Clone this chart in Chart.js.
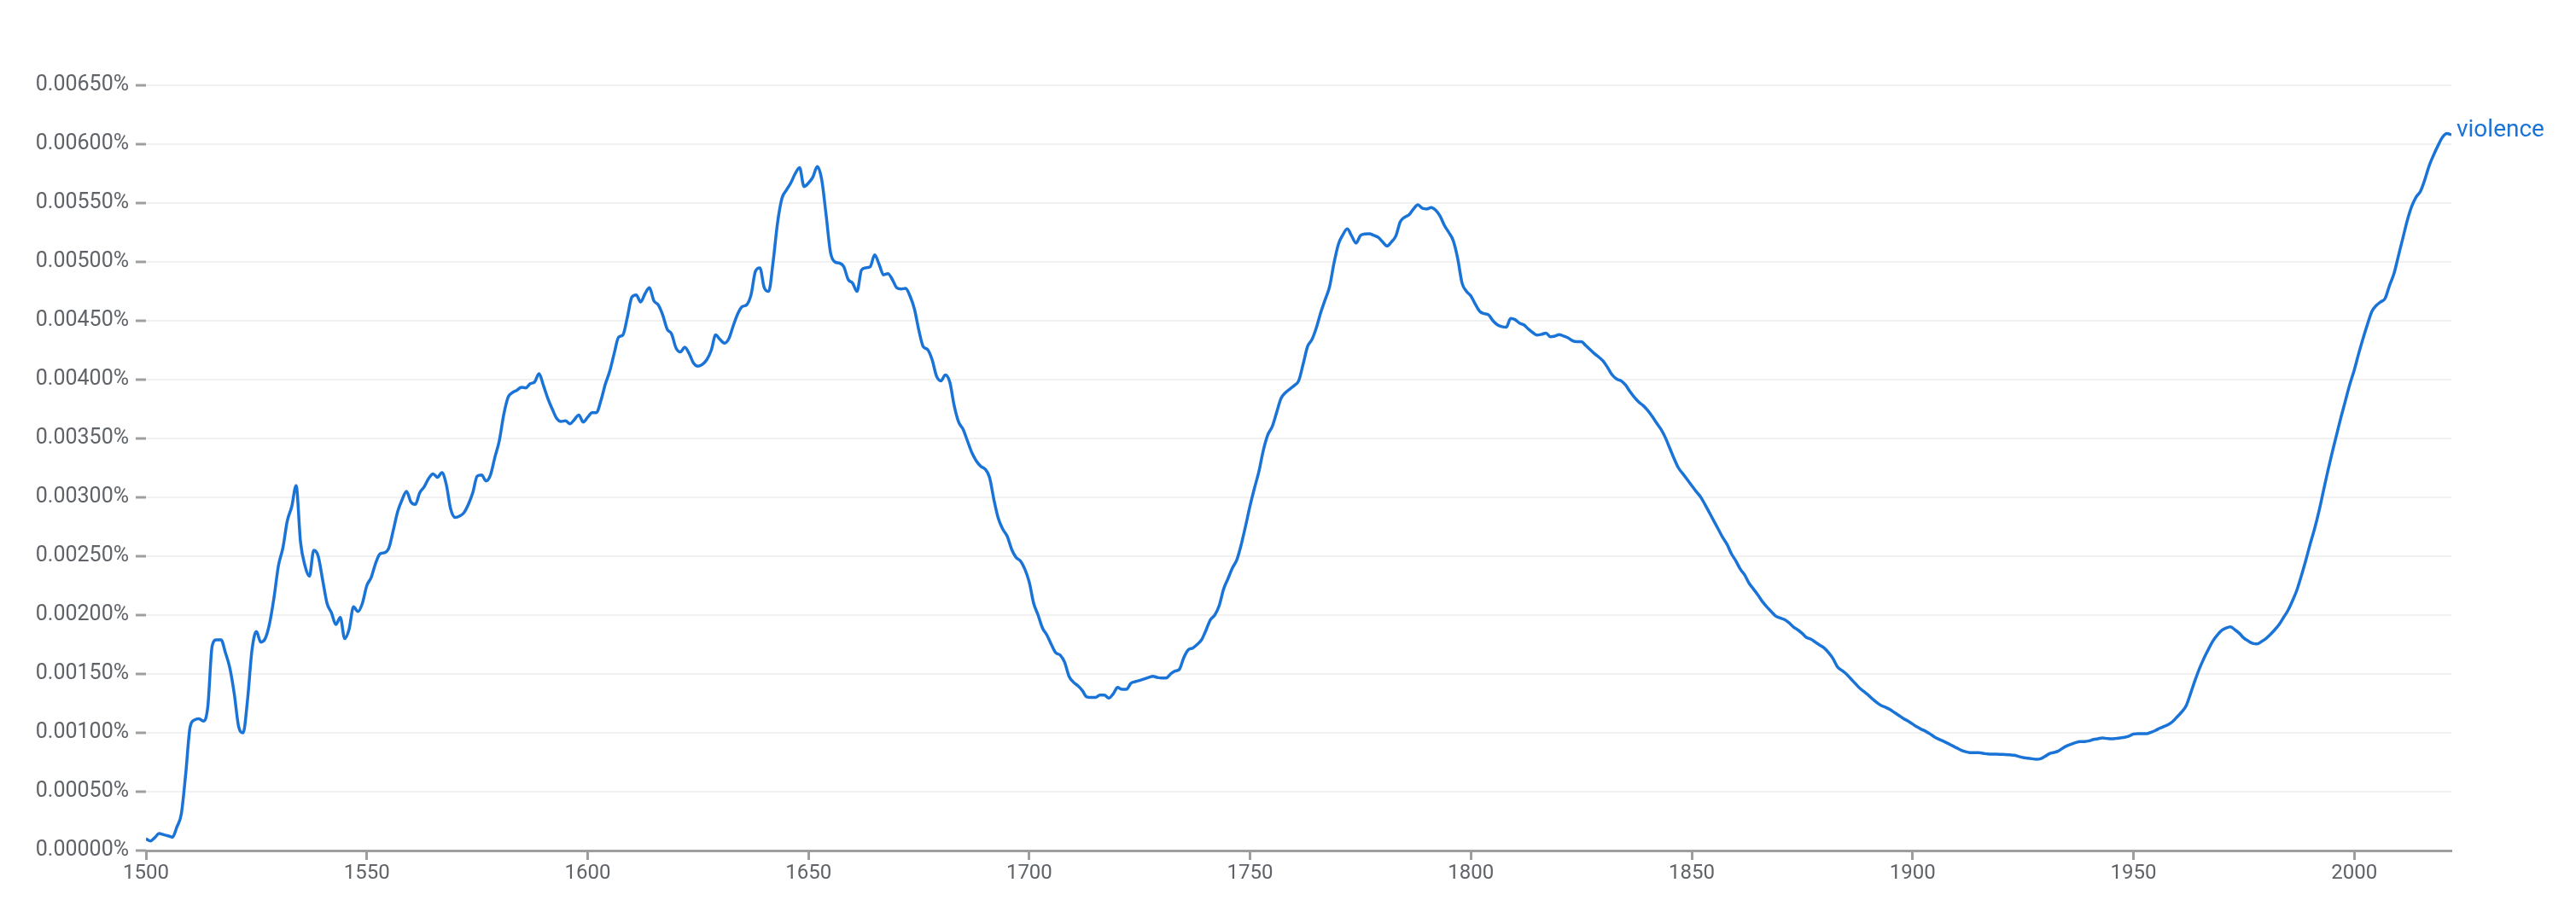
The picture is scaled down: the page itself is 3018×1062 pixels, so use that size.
<!DOCTYPE html>
<html>
<head>
<meta charset="utf-8">
<script src="https://cdn.jsdelivr.net/npm/chart.js@4.4.1/dist/chart.umd.min.js"></script>
<style>
  html, body { margin: 0; padding: 0; background: #ffffff; overflow: hidden; }
  canvas { display: block; }
</style>
</head>
<body>
<canvas id="chart" width="3018" height="1062"></canvas>
<script>
// ---- Data (values are occurrences per 100,000 words, i.e. units of 0.001%) ----
const seriesName = 'violence';
const firstYear = 1500;

const xTickValues = [1500, 1550, 1600, 1650, 1700, 1750, 1800, 1850, 1900, 1950, 2000];
const yTickValues = [0, 0.5, 1, 1.5, 2, 2.5, 3, 3.5, 4, 4.5, 5, 5.5, 6, 6.5];
const yTickLabels = ['0.00000%', '0.00050%', '0.00100%', '0.00150%', '0.00200%', '0.00250%', '0.00300%',
                     '0.00350%', '0.00400%', '0.00450%', '0.00500%', '0.00550%', '0.00600%', '0.00650%'];

const values1500s = [
  0.10, 0.082, 0.11, 0.145, 0.135, 0.125, 0.113, 0.20, 0.31, 0.65,
  1.05, 1.11, 1.12, 1.10, 1.22, 1.74, 1.79, 1.79, 1.68, 1.55,
  1.33, 1.05, 1.00, 1.28, 1.70, 1.86, 1.77, 1.80, 1.93, 2.15,
  2.42, 2.57, 2.80, 2.92, 3.10, 2.62, 2.42, 2.33, 2.55, 2.50,
  2.30, 2.10, 2.02, 1.92, 1.98, 1.80, 1.88, 2.07, 2.03, 2.10,
  2.25, 2.32, 2.44, 2.52, 2.53, 2.57, 2.72, 2.88, 2.98, 3.05,
  2.96, 2.94, 3.04, 3.09, 3.16, 3.20, 3.17, 3.21, 3.11, 2.90,
  2.83, 2.84, 2.87, 2.94, 3.04, 3.18, 3.19, 3.14, 3.19, 3.34,
  3.48, 3.70, 3.85, 3.89, 3.91, 3.935, 3.93, 3.965, 3.98, 4.05,
  3.95, 3.84, 3.75, 3.67, 3.645, 3.65, 3.625, 3.66, 3.70, 3.64
];
const values1600s = [
  3.68, 3.72, 3.72, 3.82, 3.96, 4.07, 4.22, 4.36, 4.38, 4.53,
  4.70, 4.72, 4.66, 4.73, 4.78, 4.67, 4.635, 4.55, 4.43, 4.39,
  4.27, 4.235, 4.275, 4.22, 4.14, 4.115, 4.13, 4.17, 4.25, 4.38,
  4.34, 4.31, 4.35, 4.46, 4.56, 4.62, 4.635, 4.72, 4.92, 4.95,
  4.78, 4.75, 5.00, 5.33, 5.54, 5.61, 5.67, 5.75, 5.80, 5.64,
  5.67, 5.72, 5.81, 5.70, 5.40, 5.08, 5.00, 4.99, 4.96, 4.85,
  4.82, 4.75, 4.93, 4.95, 4.96, 5.06, 4.98, 4.89, 4.90, 4.85,
  4.78, 4.77, 4.775, 4.71, 4.60, 4.42, 4.28, 4.255, 4.17, 4.03,
  3.99, 4.04, 3.98, 3.78, 3.64, 3.58, 3.48, 3.38, 3.31, 3.265,
  3.24, 3.17, 2.98, 2.82, 2.73, 2.67, 2.56, 2.49, 2.46, 2.39
];
const values1700s = [
  2.28, 2.10, 2.00, 1.89, 1.83, 1.75, 1.68, 1.66, 1.60, 1.48,
  1.43, 1.40, 1.36, 1.305, 1.30, 1.30, 1.32, 1.32, 1.295, 1.33,
  1.385, 1.37, 1.37, 1.42, 1.435, 1.445, 1.457, 1.47, 1.48, 1.47,
  1.465, 1.465, 1.50, 1.525, 1.54, 1.64, 1.705, 1.72, 1.75, 1.79,
  1.87, 1.96, 2.00, 2.08, 2.22, 2.31, 2.40, 2.47, 2.60, 2.76,
  2.93, 3.08, 3.22, 3.40, 3.53, 3.60, 3.72, 3.84, 3.89, 3.92,
  3.95, 3.99, 4.13, 4.28, 4.34, 4.44, 4.57, 4.68, 4.79, 4.99,
  5.15, 5.23, 5.28, 5.22, 5.16, 5.225, 5.237, 5.24, 5.225, 5.209,
  5.17, 5.135, 5.17, 5.22, 5.34, 5.38, 5.40, 5.45, 5.485, 5.455,
  5.45, 5.462, 5.44, 5.39, 5.31, 5.25, 5.18, 5.03, 4.82, 4.75
];
const values1800s = [
  4.71, 4.64, 4.58, 4.56, 4.55, 4.50, 4.465, 4.45, 4.445, 4.52,
  4.51, 4.48, 4.465, 4.43, 4.40, 4.378, 4.385, 4.395, 4.365, 4.37,
  4.383, 4.37, 4.355, 4.33, 4.322, 4.322, 4.29, 4.255, 4.22, 4.19,
  4.155, 4.10, 4.04, 4.005, 3.99, 3.955, 3.90, 3.85, 3.81, 3.78,
  3.74, 3.69, 3.634, 3.58, 3.51, 3.42, 3.33, 3.25, 3.20, 3.15,
  3.10, 3.05, 3.004, 2.94, 2.87, 2.80, 2.73, 2.66, 2.60, 2.52,
  2.46, 2.39, 2.34, 2.27, 2.22, 2.17, 2.115, 2.07, 2.03, 1.992,
  1.975, 1.962, 1.935, 1.90, 1.875, 1.845, 1.81, 1.795, 1.77, 1.745,
  1.72, 1.68, 1.63, 1.56, 1.53, 1.50, 1.46, 1.42, 1.38, 1.35,
  1.32, 1.285, 1.255, 1.23, 1.215, 1.195, 1.17, 1.145, 1.12, 1.10
];
const values1900s = [
  1.075, 1.05, 1.03, 1.012, 0.99, 0.964, 0.945, 0.928, 0.91, 0.89,
  0.872, 0.853, 0.84, 0.832, 0.831, 0.831, 0.826, 0.82, 0.818, 0.818,
  0.817, 0.816, 0.813, 0.81, 0.80, 0.79, 0.785, 0.78, 0.775, 0.78,
  0.80, 0.824, 0.833, 0.845, 0.87, 0.89, 0.905, 0.918, 0.925, 0.926,
  0.932, 0.944, 0.95, 0.956, 0.952, 0.949, 0.952, 0.957, 0.962, 0.972,
  0.99, 0.993, 0.993, 0.993, 1.005, 1.02, 1.04, 1.055, 1.072, 1.10,
  1.14, 1.18, 1.234, 1.34, 1.45, 1.55, 1.635, 1.71, 1.78, 1.83,
  1.87, 1.89, 1.90, 1.875, 1.845, 1.805, 1.78, 1.76, 1.755, 1.775,
  1.80, 1.835, 1.875, 1.92, 1.98, 2.04, 2.12, 2.21, 2.33, 2.46,
  2.60, 2.73, 2.88, 3.05, 3.22, 3.38, 3.53, 3.68, 3.82, 3.96
];
const values2000s = [
  4.08, 4.22, 4.35, 4.47, 4.58, 4.63, 4.66, 4.69, 4.80, 4.90,
  5.05, 5.20, 5.35, 5.47, 5.55, 5.60, 5.70, 5.82, 5.91, 5.99,
  6.06, 6.09, 6.08
];

// ---- Build chart ----
const allValues = [].concat(values1500s, values1600s, values1700s, values1800s, values1900s, values2000s);
const years = allValues.map((_, i) => firstYear + i);
const points = allValues.map((v, i) => ({ x: years[i], y: v }));

const lineColor = '#1a73d6';
const tickTextColor = '#5f6368';
const axisGray = '#9e9e9e';

const endLabelPlugin = {
  id: 'endLabel',
  afterDatasetsDraw(chart) {
    const meta = chart.getDatasetMeta(0);
    const last = meta.data[meta.data.length - 1];
    if (!last) return;
    const ctx = chart.ctx;
    ctx.save();
    ctx.font = '28px Roboto, "Noto Sans", sans-serif';
    ctx.fillStyle = lineColor;
    ctx.textAlign = 'left';
    ctx.textBaseline = 'middle';
    ctx.fillText(seriesName, last.x + 6, last.y - 5);
    ctx.restore();
  }
};

new Chart(document.getElementById('chart'), {
  type: 'line',
  data: {
    datasets: [{
      label: seriesName,
      data: points,
      borderColor: lineColor,
      borderWidth: 3.5,
      pointRadius: 0,
      fill: false,
      tension: 0.4,
      cubicInterpolationMode: 'monotone'
    }]
  },
  options: {
    responsive: false,
    animation: false,
    devicePixelRatio: 1,
    layout: { padding: { left: 0, right: 146, top: 100, bottom: 0 } },
    plugins: {
      legend: { display: false },
      tooltip: { enabled: false }
    },
    scales: {
      x: {
        type: 'linear',
        min: 1500,
        max: 2022,
        afterBuildTicks(scale) { scale.ticks = xTickValues.map(v => ({ value: v })); },
        afterFit(scale) { scale.height = 65; },
        ticks: {
          color: tickTextColor,
          font: { family: 'Roboto, "Noto Sans", sans-serif', size: 24 },
          padding: 2,
          maxRotation: 0,
          autoSkip: false,
          callback: v => String(v)
        },
        grid: {
          display: true,
          drawOnChartArea: false,
          drawTicks: true,
          tickLength: 11,
          tickWidth: 3,
          tickColor: axisGray
        },
        border: { display: true, color: axisGray, width: 3 }
      },
      y: {
        type: 'linear',
        min: 0,
        max: 6.5,
        afterBuildTicks(scale) { scale.ticks = yTickValues.map(v => ({ value: v })); },
        afterFit(scale) { scale.width = 171; },
        ticks: {
          color: tickTextColor,
          font: { family: 'Roboto, "Noto Sans", sans-serif', size: 25 },
          padding: 8,
          autoSkip: false,
          callback: v => yTickLabels[yTickValues.indexOf(v)]
        },
        grid: {
          color: '#f1f1f1',
          lineWidth: 2,
          drawTicks: true,
          tickLength: 12,
          tickWidth: 3,
          tickColor: axisGray
        },
        border: { display: false }
      }
    }
  },
  plugins: [endLabelPlugin]
});
</script>
</body>
</html>
